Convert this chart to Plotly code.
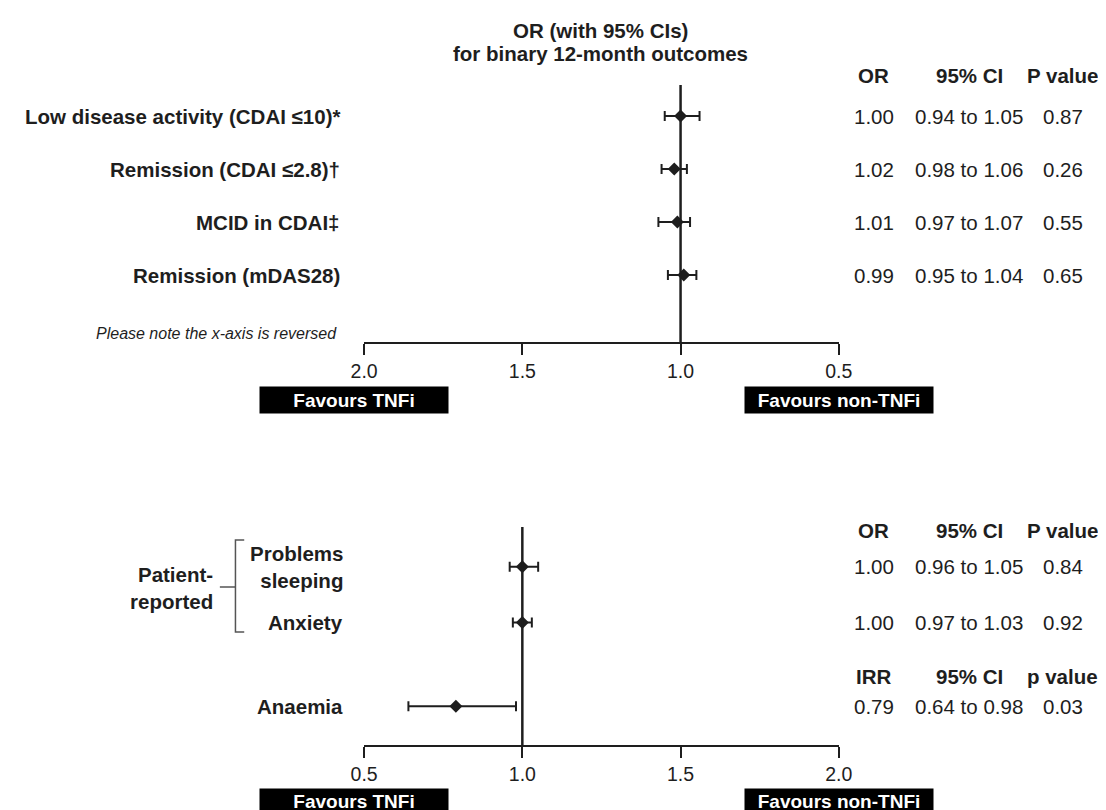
import plotly.graph_objects as go

W, H = 1106, 810
FONT = "Liberation Sans, Arial, Helvetica, sans-serif"
INK = "#1e1e1e"

# ---------------- data: top panel (binary 12-month outcomes) ----------------
top_labels = ["Low disease activity (CDAI \u226410)*",
              "Remission (CDAI \u22642.8)\u2020",
              "MCID in CDAI\u2021",
              "Remission (mDAS28)"]
top_or = [1.00, 1.02, 1.01, 0.99]
top_lo = [0.94, 0.98, 0.97, 0.95]
top_hi = [1.05, 1.06, 1.07, 1.04]
top_p = ["0.87", "0.26", "0.55", "0.65"]

# ---------------- data: bottom panel ----------------
bot_labels = ["Problems<br>sleeping", "Anxiety", "Anaemia"]
bot_est = [1.00, 1.00, 0.79]
bot_lo = [0.96, 0.97, 0.64]
bot_hi = [1.05, 1.03, 0.98]
bot_p = ["0.84", "0.92", "0.03"]

tick_vals = [0.5, 1.0, 1.5, 2.0]
tick_text = ["0.5", "1.0", "1.5", "2.0"]

# layout helpers (pixel -> paper)
def px(x):
    return x / W

def py(y):
    return 1 - y / H

top_rows = list(range(len(top_labels)))
bot_rows = [0, 1, 2.5]

def fmt2(v):
    return f"{v:.2f}"

fig = go.Figure()

fig.add_trace(go.Scatter(
    x=top_or, y=top_rows, mode="markers", xaxis="x", yaxis="y",
    marker=dict(symbol="diamond", size=10, color=INK),
    error_x=dict(type="data", symmetric=False,
                 array=[h - o for h, o in zip(top_hi, top_or)],
                 arrayminus=[o - l for o, l in zip(top_or, top_lo)],
                 thickness=2, width=5, color=INK),
    showlegend=False, hoverinfo="skip"))

fig.add_trace(go.Scatter(
    x=bot_est, y=bot_rows, mode="markers", xaxis="x2", yaxis="y2",
    marker=dict(symbol="diamond", size=10, color=INK),
    error_x=dict(type="data", symmetric=False,
                 array=[h - o for h, o in zip(bot_hi, bot_est)],
                 arrayminus=[o - l for o, l in zip(bot_est, bot_lo)],
                 thickness=2, width=5, color=INK),
    showlegend=False, hoverinfo="skip"))

axis_common = dict(
    showgrid=False, zeroline=False, showline=True, linecolor=INK, linewidth=2,
    ticks="outside", ticklen=11, tickwidth=2, tickcolor=INK,
    tickvals=tick_vals, ticktext=tick_text,
    tickfont=dict(family=FONT, size=19.5, color=INK),
    domain=[px(351), px(838)], fixedrange=True)

fig.update_layout(
    width=W, height=H, margin=dict(l=0, r=0, t=0, b=0),
    paper_bgcolor="white", plot_bgcolor="white",
    font=dict(family=FONT, color=INK),
    xaxis=dict(**axis_common, range=[2.0, 0.5], anchor="y"),
    yaxis=dict(domain=[py(334), py(77)], range=[3 + 1.264, -0.585],
               visible=False, fixedrange=True),
    xaxis2=dict(**axis_common, range=[0.5, 2.0], anchor="y2"),
    yaxis2=dict(domain=[py(737), py(519)], range=[2.5 + 0.696, -0.714],
                visible=False, fixedrange=True),
)

shapes = [
    dict(type="line", xref="x", yref="y domain", x0=1, x1=1, y0=0, y1=1,
         line=dict(color=INK, width=2.5)),
    dict(type="line", xref="x2", yref="y2 domain", x0=1, x1=1, y0=0, y1=1,
         line=dict(color=INK, width=2.5)),
    # bracket for patient-reported
    dict(type="path", xref="paper", yref="paper",
         path=f"M {px(228)} {py(532)} L {px(219)} {py(532)} L {px(219)} {py(624)} L {px(228)} {py(624)}",
         line=dict(color="#555555", width=1.5)),
    dict(type="line", xref="paper", yref="paper", x0=px(203), x1=px(219),
         y0=py(579), y1=py(579), line=dict(color="#555555", width=1.5)),
]
fig.update_layout(shapes=shapes)

ann = []
FS = 20.5
bold = dict(family=FONT, size=FS, color=INK)
reg = dict(family=FONT, size=FS, color=INK)

def A(text, x, y, xref="paper", yref="paper", xanchor="center", yanchor="middle",
      font=None, **kw):
    ann.append(dict(text=text, x=x, y=y, xref=xref, yref=yref, xanchor=xanchor,
                    yanchor=yanchor, showarrow=False, font=font or reg, **kw))

# title (two lines)
A("<b>OR (with 95% CIs)</b>", px(594), py(23), font=bold)
A("<b>for binary 12-month outcomes</b>", px(594), py(45), font=bold)

# column positions
c_or, c_ci, c_p = px(874), px(972), px(1068)

# top panel labels and values
for r, lab, o, lo, hi, p in zip(top_rows, top_labels, top_or, top_lo, top_hi, top_p):
    A(f"<b>{lab}</b>", px(328), r, yref="y", xanchor="right", font=bold)
    A(fmt2(o), c_or, r, yref="y")
    A(f"{fmt2(lo)} to {fmt2(hi)}", c_ci, r, yref="y")
    A(p, c_p, r, yref="y")
for c, t in zip([c_or, c_ci, c_p], ["OR", "95% CI", "P value"]):
    A(f"<b>{t}</b>", c, py(68), font=bold)

A("<i>Please note the x-axis is reversed</i>", px(325), py(325), xanchor="right",
  font=dict(family=FONT, size=16, color=INK))

# bottom panel labels and values
for r, lab, o, lo, hi, p in zip(bot_rows, bot_labels, bot_est, bot_lo, bot_hi, bot_p):
    A(f"<b>{lab}</b>", px(331), r, yref="y2", xanchor="right", font=bold, align="right")
    A(fmt2(o), c_or, r, yref="y2")
    A(f"{fmt2(lo)} to {fmt2(hi)}", c_ci, r, yref="y2")
    A(p, c_p, r, yref="y2")
A("<b>Patient-<br>reported</b>", px(198), py(580), xanchor="right", font=bold, align="right")
for c, t in zip([c_or, c_ci, c_p], ["OR", "95% CI", "P value"]):
    A(f"<b>{t}</b>", c, py(522), font=bold)
for c, t in zip([c_or, c_ci, c_p], ["IRR", "95% CI", "p value"]):
    A(f"<b>{t}</b>", c, py(668), font=bold)

# favours boxes
box_font = dict(family=FONT, size=19, color="white")
for ycen, hgt in ((392, 26), (793, 24)):
    A("<b>Favours TNFi</b>", px(438), py(ycen), xanchor="right", yanchor="middle",
      font=box_font, bgcolor="black", width=188, height=hgt, borderpad=0)
    A("<b>Favours non-TNFi</b>", px(741), py(ycen), xanchor="left", yanchor="middle",
      font=box_font, bgcolor="black", width=188, height=hgt, borderpad=0)

fig.update_layout(annotations=ann)

fig.write_html("out.html")
